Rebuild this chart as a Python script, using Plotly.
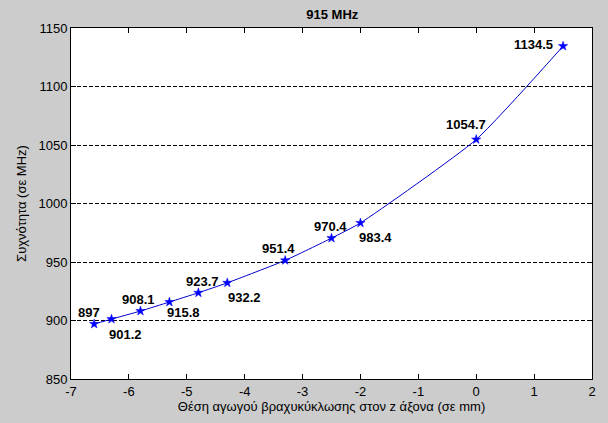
import plotly.graph_objects as go

position_mm = [-6.6, -6.3, -5.8, -5.3, -4.8, -4.3, -3.3, -2.5, -2.0, 0.0, 1.5]
freq_mhz = [897, 901.2, 908.1, 915.8, 923.7, 932.2, 951.4, 970.4, 983.4, 1054.7, 1134.5]
labels = ["897", "901.2", "908.1", "915.8", "923.7", "932.2", "951.4", "970.4", "983.4", "1054.7", "1134.5"]
x_ticks = [-7, -6, -5, -4, -3, -2, -1, 0, 1, 2]
y_ticks = [850, 900, 950, 1000, 1050, 1100, 1150]

# label pixel offsets (left edge dx, centre dy downward)
label_offsets = [(-17, -12), (-4, 15), (-19, -12), (-3, 10), (-13, -11), (0, 15),
                 (-24, -12), (-19, -12), (-2, 15), (-31, -15), (-50, -2)]

FONT = "Liberation Sans, Arial, Helvetica, sans-serif"

fig = go.Figure()
fig.add_trace(go.Scatter(
    x=position_mm, y=freq_mhz, mode="lines+markers",
    line=dict(color="#0000cc", width=1, shape="spline", smoothing=0.5),
    marker=dict(symbol="star", size=7, color="#0000ff", line=dict(width=0.5, color="#0000ff")),
    showlegend=False, hoverinfo="skip",
))

for xv, yv, lab, (dx, dy) in zip(position_mm, freq_mhz, labels, label_offsets):
    fig.add_annotation(x=xv, y=yv, xref="x", yref="y", text=lab, showarrow=False,
                       xanchor="left", yanchor="middle", xshift=dx, yshift=-dy,
                       borderpad=0,
                       font=dict(family=FONT, size=13, color="#000000", weight="bold"))

fig.update_layout(
    width=608, height=423,
    margin=dict(l=71, r=14, t=28, b=40),
    paper_bgcolor="#cccccc", plot_bgcolor="#ffffff",
    font=dict(family=FONT, size=13, color="#000000"),
    title=dict(text="<b>915 MHz</b>", x=0.5465, xanchor="center", y=0.965, yanchor="middle",
               font=dict(family=FONT, size=13, color="#000000")),
)
fig.update_xaxes(
    range=[-7, 2], tickvals=x_ticks, ticktext=[str(v) for v in x_ticks],
    ticks="inside", ticklen=5, tickcolor="#000", showline=True, linecolor="#000",
    linewidth=1, mirror="ticks", showgrid=False, zeroline=False,
    title=dict(text="Θέση αγωγού βραχυκύκλωσης στον z άξονα (σε mm)", standoff=3,
               font=dict(size=13)),
)
fig.update_yaxes(
    range=[850, 1150], tickvals=y_ticks, ticktext=[str(v) for v in y_ticks],
    ticks="inside", ticklen=5, tickcolor="#000", showline=True, linecolor="#000",
    linewidth=1, mirror="ticks", showgrid=True, gridcolor="#000000", gridwidth=1,
    griddash="4px,2px", zeroline=False,
    title=dict(text="Συχνότητα (σε MHz)", standoff=8, font=dict(size=13)),
)

fig.write_html("out.html")
